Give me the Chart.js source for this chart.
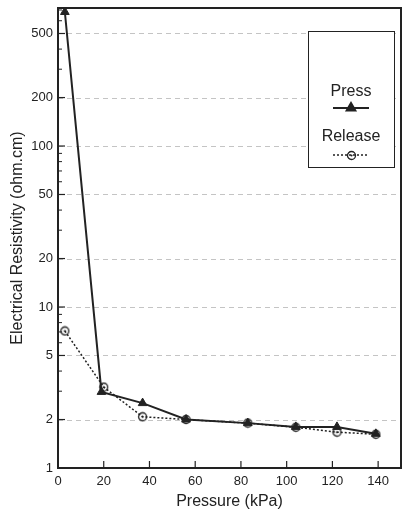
<!DOCTYPE html>
<html>
<head>
<meta charset="utf-8">
<script src="https://cdn.jsdelivr.net/npm/chart.js@4/dist/chart.umd.min.js"></script>
<style>
  html, body { margin: 0; padding: 0; background: #fff; }
</style>
</head>
<body>
<canvas id="resistivityChart" width="403" height="510"></canvas>
<script>
const pressX = [3, 19, 37, 56, 83, 104, 122, 139];
const pressValues = [680, 2.97, 2.53, 2.0, 1.9, 1.8, 1.8, 1.63];
const releaseX = [3, 20, 37, 56, 83, 104, 122, 139];
const releaseValues = [7.1, 3.18, 2.08, 2.0, 1.9, 1.79, 1.67, 1.62];
const xTickValues = [0, 20, 40, 60, 80, 100, 120, 140];
const yTickValues = [1, 2, 5, 10, 20, 50, 100, 200, 500];

const INK = '#222';
const FONT = "'Liberation Sans', Arial, sans-serif";

// hollow circle with a dot in the middle, as in the scanned figure
function makeCircleMarker() {
  const c = document.createElement('canvas');
  c.width = 11;
  c.height = 11;
  const g = c.getContext('2d');
  g.strokeStyle = INK;
  g.lineWidth = 1.3;
  g.beginPath();
  g.arc(5.5, 5.5, 4, 0, Math.PI * 2);
  g.stroke();
  g.fillStyle = INK;
  g.beginPath();
  g.arc(5.5, 5.5, 1.1, 0, Math.PI * 2);
  g.fill();
  return c;
}
const circleMarker = makeCircleMarker();

const framePlugin = {
  id: 'frameAndTicks',
  beforeDatasetsDraw(chart) {
    const { ctx, chartArea: a, scales } = chart;
    ctx.save();
    ctx.strokeStyle = '#c4c4c4';
    ctx.lineWidth = 1;
    ctx.setLineDash([5, 4]);
    yTickValues.forEach((v) => {
      if (v === 1) return;
      const y = Math.round(scales.y.getPixelForValue(v)) + 0.5;
      ctx.beginPath();
      ctx.moveTo(a.left, y);
      ctx.lineTo(a.right, y);
      ctx.stroke();
    });
    ctx.restore();
  },
  afterDatasetsDraw(chart) {
    const { ctx, chartArea: a, scales } = chart;
    ctx.save();
    ctx.strokeStyle = INK;
    ctx.lineWidth = 2;
    ctx.strokeRect(a.left, a.top, a.right - a.left, a.bottom - a.top);

    // inward ticks
    ctx.lineWidth = 1.2;
    xTickValues.forEach((v) => {
      const x = scales.x.getPixelForValue(v);
      ctx.beginPath();
      ctx.moveTo(x, a.bottom);
      ctx.lineTo(x, a.bottom - 7);
      ctx.stroke();
    });
    yTickValues.forEach((v) => {
      const y = scales.y.getPixelForValue(v);
      ctx.beginPath();
      ctx.moveTo(a.left, y);
      ctx.lineTo(a.left + 7, y);
      ctx.stroke();
    });
    ctx.lineWidth = 1;
    [1, 10, 100].forEach((dec) => {
      [3, 4, 6, 7, 8, 9].forEach((m) => {
        const v = dec * m;
        if (v > scales.y.max) return;
        const y = scales.y.getPixelForValue(v);
        ctx.beginPath();
        ctx.moveTo(a.left, y);
        ctx.lineTo(a.left + 4, y);
        ctx.stroke();
      });
    });

    // legend box
    const bx = 308, by = 31, bw = 86, bh = 136;
    ctx.fillStyle = '#fff';
    ctx.fillRect(bx, by, bw, bh);
    ctx.lineWidth = 1;
    ctx.strokeRect(bx + 0.5, by + 0.5, bw, bh);
    const cx = bx + bw / 2;
    ctx.fillStyle = INK;
    ctx.font = `16px ${FONT}`;
    ctx.textAlign = 'center';
    ctx.textBaseline = 'middle';
    const ds = chart.data.datasets;
    ctx.fillText(ds[0].label, cx, 92);
    ctx.fillText(ds[1].label, cx, 137);

    ctx.lineWidth = 2;
    ctx.beginPath();
    ctx.moveTo(cx - 18, 108);
    ctx.lineTo(cx + 18, 108);
    ctx.stroke();
    Chart.helpers.drawPoint(ctx, { pointStyle: 'triangle', radius: 5, borderWidth: 1 }, cx, 108);
    ctx.fill();

    ctx.lineWidth = 1.5;
    ctx.setLineDash([2, 2]);
    ctx.beginPath();
    ctx.moveTo(cx - 18, 155);
    ctx.lineTo(cx + 18, 155);
    ctx.stroke();
    ctx.setLineDash([]);
    ctx.drawImage(circleMarker, Math.round(cx - 5.5), 155 - 5);
    ctx.restore();
  },
};

new Chart(document.getElementById('resistivityChart'), {
  type: 'scatter',
  data: {
    datasets: [
      {
        label: 'Press',
        data: pressX.map((x, i) => ({ x, y: pressValues[i] })),
        showLine: true,
        borderColor: INK,
        backgroundColor: INK,
        borderWidth: 2,
        pointStyle: 'triangle',
        pointRadius: 5,
        pointBorderWidth: 1,
      },
      {
        label: 'Release',
        data: releaseX.map((x, i) => ({ x, y: releaseValues[i] })),
        showLine: true,
        borderColor: INK,
        backgroundColor: 'transparent',
        borderWidth: 1.5,
        borderDash: [2, 2],
        pointStyle: circleMarker,
        pointRadius: 5,
      },
    ],
  },
  options: {
    responsive: false,
    animation: false,
    layout: { autoPadding: false, padding: { top: 8, right: 2, left: 0, bottom: 0 } },
    plugins: { legend: { display: false }, tooltip: { enabled: false } },
    scales: {
      x: {
        type: 'linear',
        min: 0,
        max: 150,
        afterBuildTicks: (s) => { s.ticks = xTickValues.map((v) => ({ value: v })); },
        afterFit: (s) => { s.height = 42; s.paddingLeft = 0; s.paddingRight = 0; },
        grid: { display: false, drawTicks: false },
        border: { display: false },
        ticks: { color: INK, padding: 6, autoSkip: false, maxRotation: 0, font: { family: FONT, size: 13 } },
        title: {
          display: true,
          text: 'Pressure (kPa)',
          color: INK,
          font: { family: FONT, size: 16, lineHeight: 1 },
          padding: { top: 0, bottom: 0 },
        },
      },
      y: {
        type: 'logarithmic',
        min: 1,
        max: 720,
        afterBuildTicks: (s) => { s.ticks = yTickValues.map((v) => ({ value: v })); },
        afterFit: (s) => { s.width = 58; s.paddingTop = 0; s.paddingBottom = 0; },
        grid: { display: false, drawTicks: false },
        border: { display: false },
        ticks: {
          color: INK,
          padding: 5,
          autoSkip: false,
          font: { family: FONT, size: 13 },
          callback: (v) => String(v),
        },
        title: {
          display: true,
          text: 'Electrical Resistivity (ohm.cm)',
          color: INK,
          font: { family: FONT, size: 16, lineHeight: 1.2 },
          padding: { top: 8, bottom: 0 },
        },
      },
    },
  },
  plugins: [framePlugin],
});
</script>
</body>
</html>
